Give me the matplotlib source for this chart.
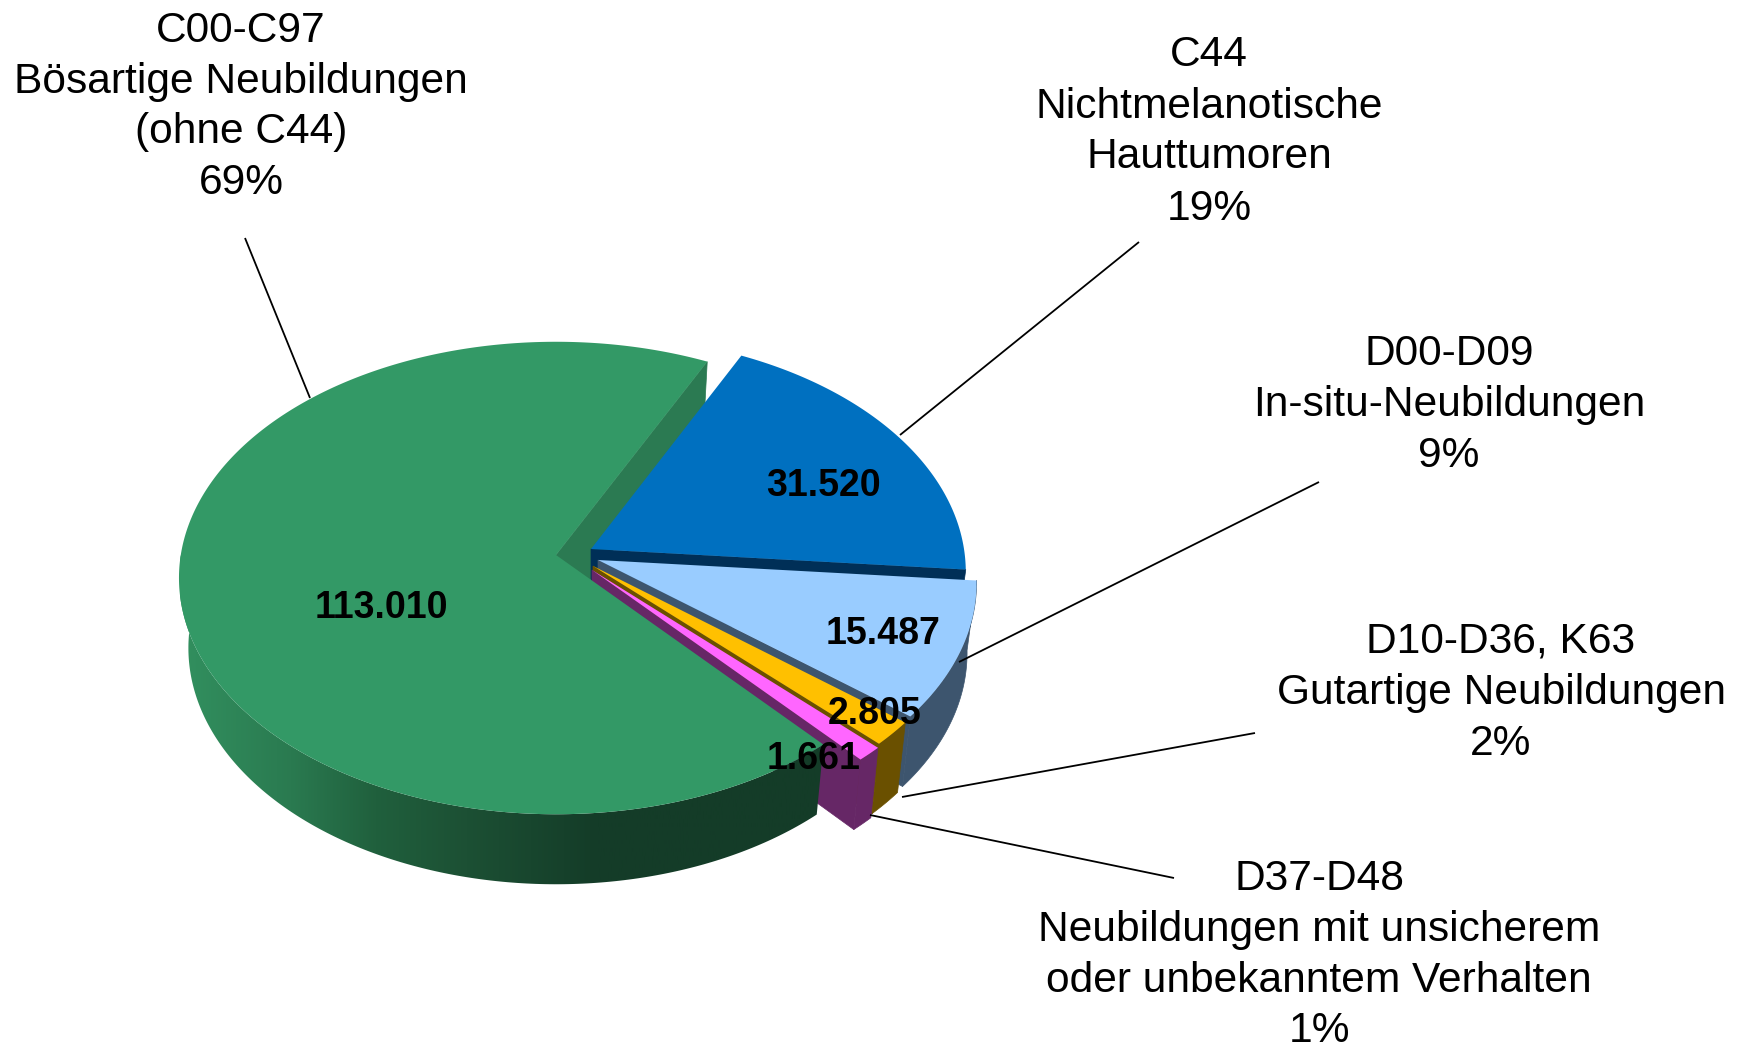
import numpy as np
import matplotlib
matplotlib.use("Agg")
import matplotlib.pyplot as plt
from matplotlib.colors import LinearSegmentedColormap
from matplotlib.patches import Polygon

plt.rcParams['font.family'] = ['Liberation Sans', 'DejaVu Sans']

# data
codes = ['C00-C97', 'C44', 'D00-D09', 'D10-D36, K63', 'D37-D48']
names = [['Bösartige Neubildungen', '(ohne C44)'], ['Nichtmelanotische', 'Hauttumoren'],
         ['In-situ-Neubildungen'], ['Gutartige Neubildungen'],
         ['Neubildungen mit unsicherem', 'oder unbekanntem Verhalten']]
values = [113010, 31520, 15487, 2805, 1661]
percents = ['69%', '19%', '9%', '2%', '1%']
value_labels = ['113.010', '31.520', '15.487', '2.805', '1.661']

# style
top_colors = ['#339966', '#0070C0', '#99CCFF', '#FFC000', '#FF66FF']
wall_colors = ['#2B7A52', '#002F57', '#3D556E', '#6A5000', '#662766']
apexes = [(556, 555), (591, 549), (598, 560), (593, 566), (592, 570)]
radius_scale = [1.006, 1.0, 1.01, 1.01, 1.01]
label_xy = [(241, 103), (1209, 128), (1449, 401), (1501, 689), (1319, 951)]
value_xy = [(381, 608), (823, 486), (883, 634), (875, 714), (814, 759)]
leaders = [((245, 238), (310, 398)), ((1139, 242), (900, 435)), ((1319, 482), (959, 662)),
           ((1255, 733), (902, 797)), ((1174, 878), (870, 815))]
A, B, K = 373.0, 234.0, 0.0974   # pie radii in px and perspective
DEPTH = 70
BOTTOM_SCALE = 0.975
START = 64.0
LINE_STEP = 51


def project(theta, i, sx=1.0, drop=0.0):
    t = np.radians(theta)
    w = 1 + K * np.sin(t)
    return apexes[i][0] + A * radius_scale[i] * sx * np.cos(t) / w, apexes[i][1] - B * np.sin(t) / w + drop


def top_face(ax, th1, th2, i, zorder=1):
    th = np.linspace(th1, th2, 600)
    x, y = project(th, i)
    ax.fill(np.r_[apexes[i][0], x], np.r_[apexes[i][1], y], color=top_colors[i], lw=0, zorder=zorder)


def cut_wall(ax, theta, i):
    x1, y1 = project(theta, i)
    x2, y2 = project(theta, i, BOTTOM_SCALE, DEPTH)
    ax.fill([apexes[i][0], x1, x2, apexes[i][0]], [apexes[i][1], y1, y2, apexes[i][1] + DEPTH],
            color=wall_colors[i], lw=0.5)


def rim_outline(th1, th2, i):
    th = np.linspace(th1, th2, 200)
    x1, y1 = project(th, i)
    x2, y2 = project(th[::-1], i, BOTTOM_SCALE, DEPTH)
    return np.c_[np.r_[x1, x2], np.r_[y1, y2]]


fig = plt.figure(figsize=(17.42, 10.51), dpi=100)
ax = fig.add_axes([0, 0, 1, 1])
ax.axis('off')

# slice angles from the values, clockwise from the top of the blue slice
sweep = np.array(values) / sum(values) * 360
ends = START - np.cumsum(sweep[1:])
blue_a = (ends[0], START)
light_a = (ends[1], ends[0])
orange_a = (ends[2], ends[1])
pink_a = (ends[3], ends[2])
green_a = (START, ends[3] + 360)

# back to front
cut_wall(ax, START, 0)
cut_wall(ax, blue_a[0], 1)
top_face(ax, blue_a[0], blue_a[1], 1)

for i, ang in [(2, light_a), (3, orange_a), (4, pink_a)]:
    cut_wall(ax, ang[0], i)
    outline = rim_outline(ang[0], ang[1], i)
    ax.fill(outline[:, 0], outline[:, 1], color=wall_colors[i], lw=0.5)
    top_face(ax, ang[0], ang[1], i)

# green rim wall with shading, left to right
shade = LinearSegmentedColormap.from_list('shade', [(0, '#32905F'), (0.17, '#2A7A50'), (0.3, '#20603D'),
                                                    (0.44, '#1C5034'), (0.64, '#143C28'), (1, '#143C28')])
clip = Polygon(rim_outline(180, green_a[1], 0), closed=True, transform=ax.transData, fc='none', ec='none')
ax.add_patch(clip)
img = ax.imshow(np.linspace(0, 1, 256).reshape(1, -1), cmap=shade, extent=(180, 830, 1051, 0),
                aspect='auto', zorder=1.5)
img.set_clip_path(clip)
ax.set_xlim(0, 1742)
ax.set_ylim(1051, 0)

top_face(ax, green_a[0], green_a[1], 0, zorder=1.6)

for (p, q) in leaders:
    ax.plot([p[0], q[0]], [p[1], q[1]], color='black', lw=1.3, solid_capstyle='butt', zorder=3)

for lab, (x, y) in zip(value_labels, value_xy):
    ax.text(x, y, lab, ha='center', va='center', fontsize=27, fontweight='bold', color='black', zorder=4)

# one text per line, so the last line stays inside the picture
for code, name, pct, (x, y) in zip(codes, names, percents, label_xy):
    lines = [code] + name + [pct]
    for j, line in enumerate(lines):
        ly = y + (j - (len(lines) - 1) / 2) * LINE_STEP + 15
        ax.text(x, ly, line, ha='center', va='baseline', fontsize=30.6, color='black', zorder=4)

fig.savefig('out.png', dpi=100)
